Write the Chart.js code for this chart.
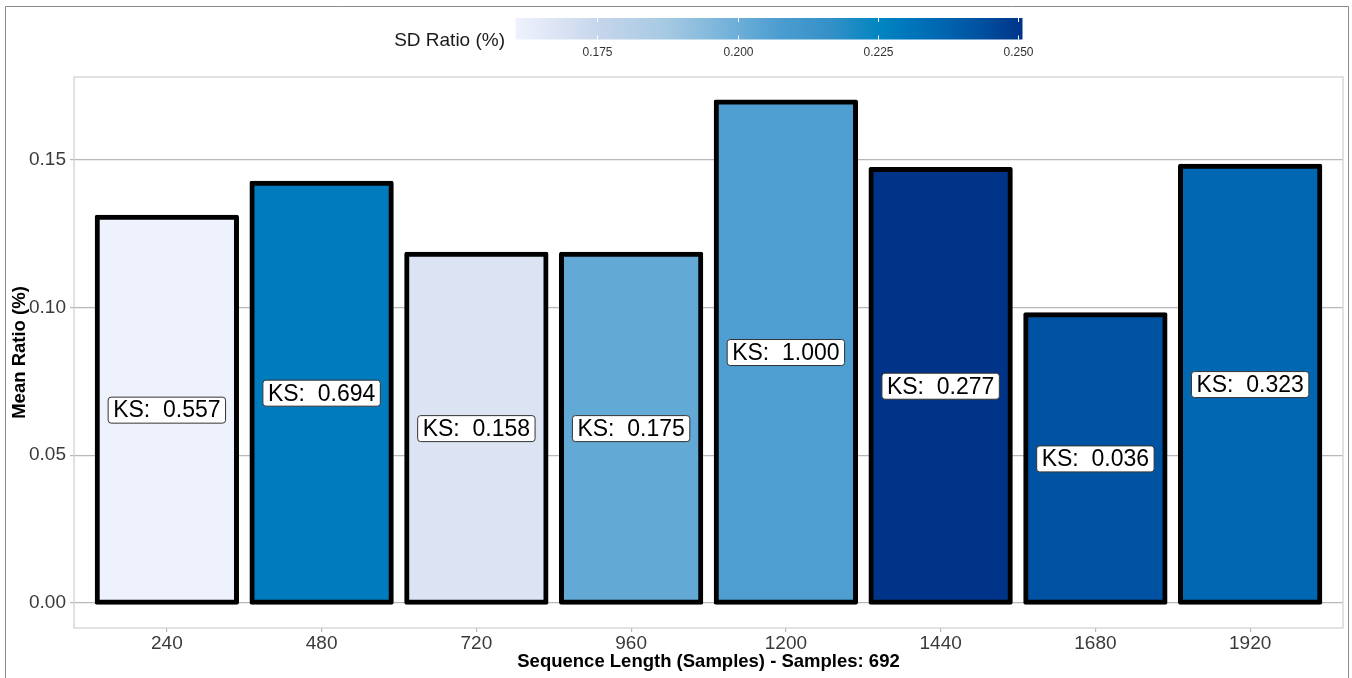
<!DOCTYPE html>
<html lang="en">
<head>
<meta charset="UTF-8">
<title>Mean Ratio by Sequence Length</title>
<script src="https://cdn.jsdelivr.net/npm/chart.js"></script>
<style>
  html, body { margin: 0; padding: 0; background: #fff; }
  #wrap { width: 1352px; height: 678px; }
</style>
</head>
<body>
<div id="wrap"><canvas id="chart" width="1352" height="678"></canvas></div>
<script>
// data
const categories = ['240', '480', '720', '960', '1200', '1440', '1680', '1920'];
const meanRatio = [0.1305, 0.1420, 0.1180, 0.1180, 0.1695, 0.1467, 0.0975, 0.1478];
const sdRatio = [0.1604, 0.2284, 0.1676, 0.2024, 0.2069, 0.2508, 0.2427, 0.2355];
const ksValues = ['0.557', '0.694', '0.158', '0.175', '1.000', '0.277', '0.036', '0.323'];
const yTicks = [0, 0.05, 0.10, 0.15];
const sdTicks = [0.175, 0.200, 0.225, 0.250];

const FONT = '"Liberation Sans", Arial, Helvetica, sans-serif';

// colour scale for SD ratio (fraction of range -> colour)
const colourStops = [
    [0.00, '#eef2fd'],
    [0.08, '#dce4f4'],
    [0.17, '#c4d5ea'],
    [0.30, '#a5c9e2'],
    [0.44, '#6caed8'],
    [0.52, '#4c9dd0'],
    [0.62, '#3590c8'],
    [0.72, '#0085c0'],
    [0.76, '#007abe'],
    [0.84, '#0066b0'],
    [0.92, '#0050a0'],
    [1.00, '#003488']
];
const sdMin = Math.min(...sdRatio);
const sdMax = Math.max(...sdRatio);

function hexToRgb(h) {
    return [parseInt(h.slice(1, 3), 16), parseInt(h.slice(3, 5), 16), parseInt(h.slice(5, 7), 16)];
}
function colourFor(v) {
    let t = (v - sdMin) / (sdMax - sdMin);
    t = Math.max(0, Math.min(1, t));
    for (let i = 1; i < colourStops.length; i++) {
        if (t <= colourStops[i][0]) {
            let [t0, c0] = colourStops[i - 1];
            let [t1, c1] = colourStops[i];
            let f = (t - t0) / (t1 - t0);
            let a = hexToRgb(c0), b = hexToRgb(c1);
            let rgb = a.map((x, k) => Math.round(x + (b[k] - x) * f));
            return 'rgb(' + rgb.join(',') + ')';
        }
    }
    return colourStops[colourStops.length - 1][1];
}

const decorPlugin = {
    id: 'decor',
    beforeDraw(chart) {
        let ctx = chart.ctx;
        ctx.save();
        ctx.fillStyle = '#fff';
        ctx.fillRect(0, 0, chart.width, chart.height);
        // outer frame
        ctx.strokeStyle = '#8a8a8a';
        ctx.lineWidth = 1;
        ctx.beginPath();
        ctx.moveTo(5.5, chart.height);
        ctx.lineTo(5.5, 6.5);
        ctx.lineTo(1348.5, 6.5);
        ctx.lineTo(1348.5, chart.height);
        ctx.stroke();
        ctx.restore();
    },
    beforeDatasetsDraw(chart) {
        let ctx = chart.ctx, a = chart.chartArea;
        ctx.save();
        ctx.strokeStyle = '#cfcfcf';
        ctx.lineWidth = 1.2;
        ctx.strokeRect(a.left, a.top, a.right - a.left, a.bottom - a.top);
        ctx.restore();
    },
    afterDatasetsDraw(chart) {
        let ctx = chart.ctx;
        let meta = chart.getDatasetMeta(0);
        let yScale = chart.scales.y;
        ctx.save();
        ctx.font = '23px ' + FONT;
        ctx.textAlign = 'center';
        ctx.textBaseline = 'middle';
        meta.data.forEach((bar, i) => {
            let text = 'KS:  ' + ksValues[i];
            let cx = bar.x;
            let cy = yScale.getPixelForValue(meanRatio[i] / 2);
            let w = ctx.measureText(text).width + 10;
            let h = 26;
            ctx.beginPath();
            ctx.roundRect(cx - w / 2, cy - h / 2, w, h, 3);
            ctx.fillStyle = '#fff';
            ctx.fill();
            ctx.strokeStyle = '#333';
            ctx.lineWidth = 1;
            ctx.stroke();
            ctx.fillStyle = '#000';
            ctx.fillText(text, cx, cy + 1);
        });
        ctx.restore();
    },
    afterDraw(chart) {
        // colour bar legend
        let ctx = chart.ctx;
        let x0 = 515.5, x1 = 1022.5, y0 = 18, y1 = 39.5;
        ctx.save();
        let grad = ctx.createLinearGradient(x0, 0, x1, 0);
        colourStops.forEach(s => grad.addColorStop(s[0], s[1]));
        ctx.fillStyle = grad;
        ctx.fillRect(x0, y0, x1 - x0, y1 - y0);
        ctx.strokeStyle = '#fff';
        ctx.lineWidth = 1;
        ctx.font = '12px ' + FONT;
        ctx.fillStyle = '#333';
        ctx.textAlign = 'center';
        ctx.textBaseline = 'middle';
        sdTicks.forEach(v => {
            let x = Math.round(x0 + (v - sdMin) / (sdMax - sdMin) * (x1 - x0)) + 0.5;
            ctx.beginPath();
            ctx.moveTo(x, y0);
            ctx.lineTo(x, y0 + 4);
            ctx.moveTo(x, y1 - 4);
            ctx.lineTo(x, y1);
            ctx.stroke();
            ctx.fillText(v.toFixed(3), x, 53);
        });
        ctx.font = '19px ' + FONT;
        ctx.fillStyle = '#1a1a1a';
        ctx.textAlign = 'right';
        ctx.fillText('SD Ratio (%)', 505, 41);
        ctx.restore();
    }
};

new Chart(document.getElementById('chart'), {
    type: 'bar',
    data: {
        datasets: [{
            data: meanRatio.map((v, i) => ({ x: i + 1, y: v })),
            backgroundColor: sdRatio.map(colourFor),
            borderColor: '#000',
            borderWidth: 5,
            borderSkipped: false,
            borderRadius: 2,
            inflateAmount: 2.5,
            barPercentage: 0.9,
            categoryPercentage: 1
        }]
    },
    options: {
        responsive: false,
        animation: false,
        devicePixelRatio: 1,
        layout: { padding: { top: 77, right: 9, left: 0, bottom: 0 } },
        plugins: { legend: { display: false }, tooltip: { enabled: false } },
        scales: {
            x: {
                type: 'linear',
                min: 0.4,
                max: 8.6,
                offset: false,
                afterFit(s) { s.height = 50; },
                afterBuildTicks(s) { s.ticks = categories.map((c, i) => ({ value: i + 1 })); },
                ticks: {
                    callback: v => categories[v - 1],
                    font: { family: FONT, size: 19 },
                    color: '#3a3a3a',
                    padding: 0,
                    maxRotation: 0,
                    autoSkip: false
                },
                grid: { offset: false, drawOnChartArea: false, drawTicks: true, tickLength: 4, color: '#b8b8b8', lineWidth: 1.2 },
                border: { display: false },
                title: {
                    display: true,
                    text: 'Sequence Length (Samples) - Samples: 692',
                    font: { family: FONT, size: 18.5, weight: 'bold' },
                    color: '#000',
                    padding: { top: 0, bottom: 5 }
                }
            },
            y: {
                min: -0.00848,
                max: 0.178,
                afterFit(s) { s.width = 74; },
                afterBuildTicks(s) { s.ticks = yTicks.map(v => ({ value: v })); },
                ticks: {
                    callback: v => v.toFixed(2),
                    font: { family: FONT, size: 19 },
                    color: '#3a3a3a',
                    padding: 4
                },
                grid: { color: '#b8b8b8', lineWidth: 1.2, tickLength: 4 },
                border: { display: false },
                title: {
                    display: true,
                    text: 'Mean Ratio (%)',
                    font: { family: FONT, size: 18.5, weight: 'bold' },
                    color: '#000',
                    padding: { top: 9, bottom: 0 }
                }
            }
        }
    },
    plugins: [decorPlugin]
});
</script>
</body>
</html>
